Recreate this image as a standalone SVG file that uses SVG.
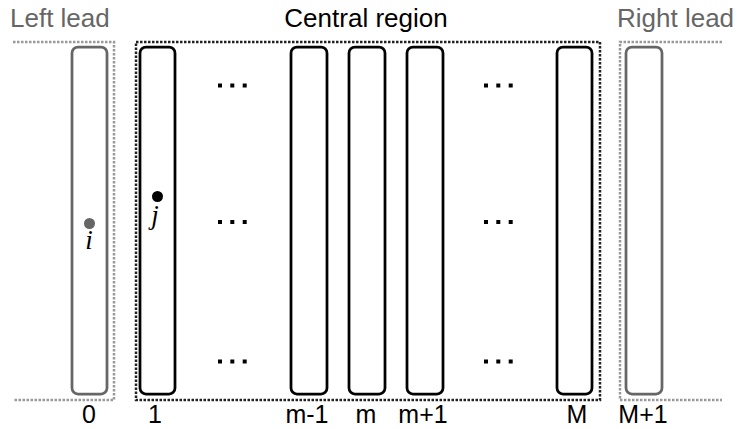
<svg xmlns="http://www.w3.org/2000/svg" width="737" height="429" viewBox="0 0 737 429">
<style>
.lbl{font-family:"Liberation Sans",Arial,sans-serif;font-size:26px;}
.num{font-family:"Liberation Sans",Arial,sans-serif;font-size:25px;fill:#000;text-anchor:middle;}
.var{font-family:"Liberation Serif","Times New Roman",serif;font-style:italic;font-size:27px;text-anchor:middle;}
.lead{fill:none;stroke:#666;stroke-width:2.75;}
.site{fill:none;stroke:#000;stroke-width:2.75;}
.dl{fill:none;stroke:#999;stroke-width:2.5;stroke-dasharray:2.5 1.5;}
.dc{fill:none;stroke:#222;stroke-width:2.5;stroke-dasharray:2.5 1.5;}
.dot{fill:#000;}
</style>
<rect width="737" height="429" fill="#fff"/>
<g id="regions">
<polyline class="dl" points="13,42 114,42 114,400 13,400"/>
<rect class="dc" x="136" y="42" width="464" height="358"/>
<polyline class="dl" points="722,42 620,42 620,400 722,400"/>
</g>
<g id="titles">
<text class="lbl" x="10" y="27" fill="#666">Left lead</text>
<text class="lbl" x="366" y="27" fill="#000" text-anchor="middle">Central region</text>
<text class="lbl" x="617" y="27" fill="#666">Right lead</text>
</g>
<g id="site0"><rect class="lead" x="72" y="47" width="35" height="347" rx="6"/><text class="num" x="89" y="423">0</text></g>
<g id="site1"><rect class="site" x="140" y="47" width="35" height="347" rx="6"/><text class="num" x="155" y="423">1</text></g>
<g id="site-m-1"><rect class="site" x="291" y="47" width="36" height="347" rx="6"/><text class="num" x="307" y="423">m-1</text></g>
<g id="site-m"><rect class="site" x="349" y="47" width="36" height="347" rx="6"/><text class="num" x="366" y="423">m</text></g>
<g id="site-m+1"><rect class="site" x="407" y="47" width="36" height="347" rx="6"/><text class="num" x="423" y="423">m+1</text></g>
<g id="site-M"><rect class="site" x="557" y="47" width="35" height="347" rx="6"/><text class="num" x="577" y="423">M</text></g>
<g id="site-M+1"><rect class="lead" x="626" y="47" width="36" height="347" rx="6"/><text class="num" x="643" y="423">M+1</text></g>
<g id="point-i"><circle cx="89.5" cy="223.5" r="5.5" fill="#666"/><text class="var" x="89" y="249">i</text></g>
<g id="point-j"><circle cx="157.5" cy="196.5" r="5.5" fill="#000"/><text class="var" x="155" y="224">j</text></g>
<g id="ellipses">
<rect class="dot" x="218" y="83.5" width="4" height="4"/><rect class="dot" x="230.3" y="83.5" width="4" height="4"/><rect class="dot" x="242.7" y="83.5" width="4" height="4"/>
<rect class="dot" x="218" y="220" width="4" height="4"/><rect class="dot" x="230.3" y="220" width="4" height="4"/><rect class="dot" x="242.7" y="220" width="4" height="4"/>
<rect class="dot" x="218" y="359.5" width="4" height="4"/><rect class="dot" x="230.3" y="359.5" width="4" height="4"/><rect class="dot" x="242.7" y="359.5" width="4" height="4"/>
<rect class="dot" x="484" y="83.5" width="4" height="4"/><rect class="dot" x="496.3" y="83.5" width="4" height="4"/><rect class="dot" x="508.7" y="83.5" width="4" height="4"/>
<rect class="dot" x="484" y="220" width="4" height="4"/><rect class="dot" x="496.3" y="220" width="4" height="4"/><rect class="dot" x="508.7" y="220" width="4" height="4"/>
<rect class="dot" x="484" y="359.5" width="4" height="4"/><rect class="dot" x="496.3" y="359.5" width="4" height="4"/><rect class="dot" x="508.7" y="359.5" width="4" height="4"/>
</g>
</svg>
